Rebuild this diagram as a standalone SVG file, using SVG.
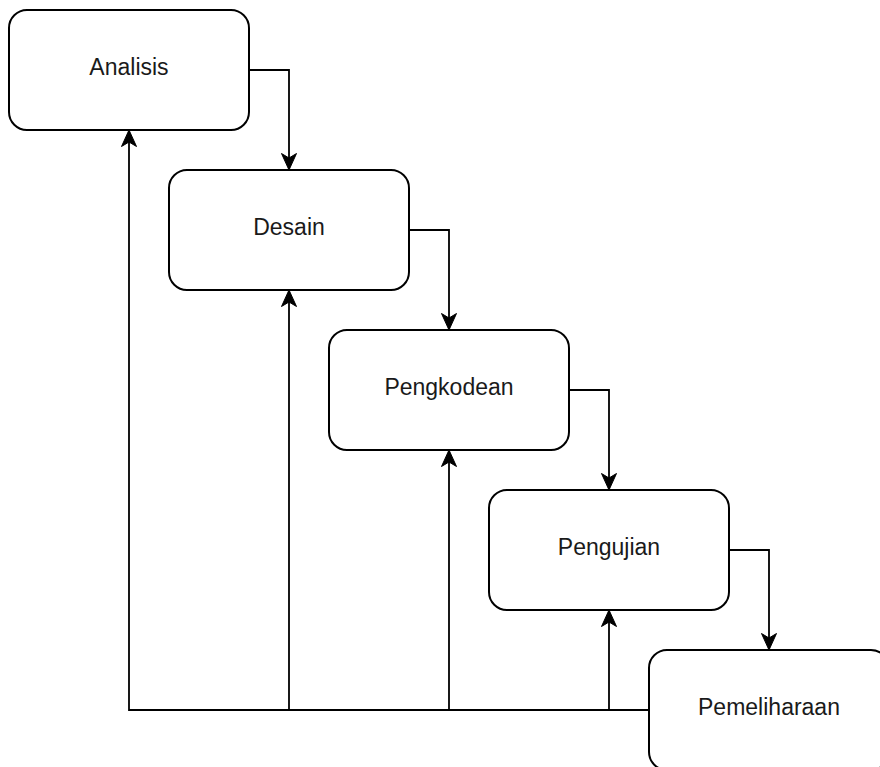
<svg xmlns="http://www.w3.org/2000/svg" width="880" height="767" viewBox="0 0 880 767">
<style>
.box{fill:#fff;stroke:#000;stroke-width:2}
.lbl{font-family:"Liberation Sans",Arial,sans-serif;font-size:23px;fill:#1a1a1a;text-anchor:middle}
.edge{fill:none;stroke:#000;stroke-width:1.8}
</style>
<defs>
<marker id="arr" markerUnits="userSpaceOnUse" markerWidth="18" markerHeight="18" viewBox="0 0 18 18" refX="17" refY="9" orient="auto">
<path d="M0.5,1.5 L17,9 L0.5,16.5 L5,9 Z" fill="#000" stroke="#000" stroke-width="1"/>
</marker>
</defs>
<rect width="880" height="767" fill="#fff"/>
<g id="connectors">
<path class="edge" d="M249,70 H289 V170" marker-end="url(#arr)"/>
<path class="edge" d="M409,230 H449 V330" marker-end="url(#arr)"/>
<path class="edge" d="M569,390 H609 V490" marker-end="url(#arr)"/>
<path class="edge" d="M729,550 H769 V650" marker-end="url(#arr)"/>
<path class="edge" d="M649,710 H129 V130" marker-end="url(#arr)"/>
<path class="edge" d="M289,710 V290" marker-end="url(#arr)"/>
<path class="edge" d="M449,710 V450" marker-end="url(#arr)"/>
<path class="edge" d="M609,710 V610" marker-end="url(#arr)"/>
</g>
<g id="analisis"><rect class="box" x="9" y="10" width="240" height="120" rx="18"/><text class="lbl" x="129" y="74.5">Analisis</text></g>
<g id="desain"><rect class="box" x="169" y="170" width="240" height="120" rx="18"/><text class="lbl" x="289" y="234.5">Desain</text></g>
<g id="pengkodean"><rect class="box" x="329" y="330" width="240" height="120" rx="18"/><text class="lbl" x="449" y="394.5">Pengkodean</text></g>
<g id="pengujian"><rect class="box" x="489" y="490" width="240" height="120" rx="18"/><text class="lbl" x="609" y="554.5">Pengujian</text></g>
<g id="pemeliharaan"><rect class="box" x="649" y="650" width="240" height="120" rx="18"/><text class="lbl" x="769" y="714.5">Pemeliharaan</text></g>
</svg>
